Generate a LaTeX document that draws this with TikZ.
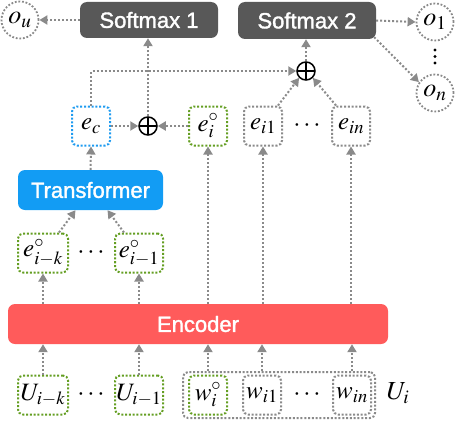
\documentclass[tikz,border=0pt]{standalone}
\usepackage{mathptmx}
\usepackage{fontspec}
\newfontfamily\hv[FakeBold=1.6]{Liberation Sans}
\usetikzlibrary{arrows.meta,calc}
\definecolor{smgray}{RGB}{88,88,88}
\definecolor{tblue}{RGB}{18,156,244}
\definecolor{ered}{RGB}{255,91,91}
\definecolor{grn}{RGB}{100,158,34}
\definecolor{blu}{RGB}{30,155,240}
\definecolor{lg}{RGB}{138,138,138}
\begin{document}
\begin{tikzpicture}[x=1pt,y=-1pt,
  dotline/.style={draw=lg, line width=2pt, dash pattern=on 2pt off 2pt},
  arr/.style={dotline, -{Triangle[length=8pt,width=9pt]}},
  mbox/.style={rectangle, rounded corners=5pt, line width=2pt, dash pattern=on 2pt off 1.8pt,
     minimum width=38pt, minimum height=39pt, inner sep=0pt, font=\fontsize{25}{25}\selectfont},
  gbox/.style={mbox, draw=grn},
  bbox/.style={mbox, draw=blu},
  kbox/.style={mbox, draw=lg},
  ocirc/.style={circle, draw=lg, line width=1.8pt, dash pattern=on 1.8pt off 1.8pt,
     minimum size=37pt, inner sep=0pt, font=\fontsize{26}{26}\selectfont},
  block/.style={rectangle, rounded corners=7pt, text=white, inner sep=0pt,
     font=\hv\fontsize{22}{22}\selectfont},
  oplus/.style={circle, draw=black, line width=1.5pt, minimum size=18pt, inner sep=0pt,
     path picture={\draw[black, line width=1.5pt]
       (path picture bounding box.north) -- (path picture bounding box.south)
       (path picture bounding box.west) -- (path picture bounding box.east);}},
  dotsnode/.style={inner sep=0pt, font=\fontsize{26}{26}\selectfont}
]
\useasboundingbox (0,0) rectangle (457,420);

% top row
\node[block, fill=smgray, minimum width=138pt, minimum height=36pt] (sm1) at (149,20) {Softmax 1};
\node[block, fill=smgray, minimum width=138pt, minimum height=37pt] (sm2) at (307,20.5) {Softmax 2};
\node[ocirc] (ou) at (20,20) {$o_u$};
\node[ocirc] (o1) at (435,22) {$o_1$};
\node[ocirc] (on) at (435,93) {$o_n$};
\fill (435,50) circle (1.6pt) (435,56.5) circle (1.6pt) (435,63) circle (1.6pt);

% plus nodes
\node[oplus] (p1) at (148,126) {};
\node[oplus] (p2) at (306,71) {};

% e row
\node[bbox] (ec) at (91,126) {$e_c$};
\node[gbox] (ei) at (208,126) {$e_i^\circ$};
\node[kbox] (ei1) at (263,126) {$e_{i1}$};
\node[kbox] (ein) at (351,126) {$e_{in}$};
\node[dotsnode] (d1) at (307,126) {$\cdots$};

% transformer
\node[block, fill=tblue, minimum width=145pt, minimum height=40pt] (tr) at (90.5,190) {Transformer};

\node[gbox, minimum width=50pt] (eik) at (43,253) {$e^\circ_{i-k}$};
\node[gbox, minimum width=48pt] (eim) at (139,253) {$e^\circ_{i-1}$};
\node[dotsnode] (d2) at (91,253) {$\cdots$};

% encoder
\node[block, fill=ered, minimum width=380pt, minimum height=40pt] (enc) at (198,324) {Encoder};

% bottom row
\node[kbox, minimum width=192pt, minimum height=46pt] (ui) at (279,395) {};
\node[gbox, minimum width=50pt] (uik) at (43,395) {$U_{i-k}$};
\node[gbox, minimum width=48pt] (uim) at (139,395) {$U_{i-1}$};
\node[dotsnode] (d3) at (91,395) {$\cdots$};
\node[gbox] (wi) at (208,395) {$w_i^\circ$};
\node[kbox] (wi1) at (262,395) {$w_{i1}$};
\node[kbox] (win) at (352,395) {$w_{in}$};
\node[dotsnode] (d4) at (307,395) {$\cdots$};
\node[inner sep=0pt, font=\fontsize{26}{26}\selectfont] (uil) at (398,393) {$U_i$};

% connectors: bottom -> encoder
\draw[arr] (uik.north) -- (uik.north |- enc.south);
\draw[arr] (uim.north) -- (uim.north |- enc.south);
\draw[arr] (wi.north |- ui.north) -- (wi.north |- enc.south);
\draw[arr] (wi1.north |- ui.north) -- (wi1.north |- enc.south);
\draw[arr] (win.north |- ui.north) -- (win.north |- enc.south);

% encoder -> e boxes
\draw[arr] (eik.south |- enc.north) -- (eik.south);
\draw[arr] (eim.south |- enc.north) -- (eim.south);
\draw[arr] (ei.south |- enc.north) -- (ei.south);
\draw[arr] (ei1.south |- enc.north) -- (ei1.south);
\draw[arr] (ein.south |- enc.north) -- (ein.south);

% e history -> transformer
\draw[arr] ($(eik.north)+(16,0)$) -- ($(tr.south)+(-15,0)$);
\draw[arr] ($(eim.north)+(-15,0)$) -- ($(tr.south)+(17,0)$);
\draw[arr] (tr.north) -- (ec.south);

% into plus1
\draw[arr] (ec.east) -- (p1.west);
\draw[arr] (ei.west) -- (p1.east);
\draw[arr] (p1.north) -- (p1.north |- sm1.south);

% into plus2
\draw[arr] (ec.north) |- (p2.west);
\draw[arr] ($(ei1.north)+(15,0)$) -- (p2.south west);
\draw[arr] ($(ein.north)+(-15,0)$) -- (p2.south east);
\draw[arr] (p2.north) -- (p2.north |- sm2.south);

% softmax outputs
\draw[arr] (sm1.west) -- (ou.east);
\draw[arr] (sm2.east) -- (o1.west);
\draw[arr] ($(sm2.south east)+(-2,-2)$) -- (on.146);
\end{tikzpicture}
\end{document}
